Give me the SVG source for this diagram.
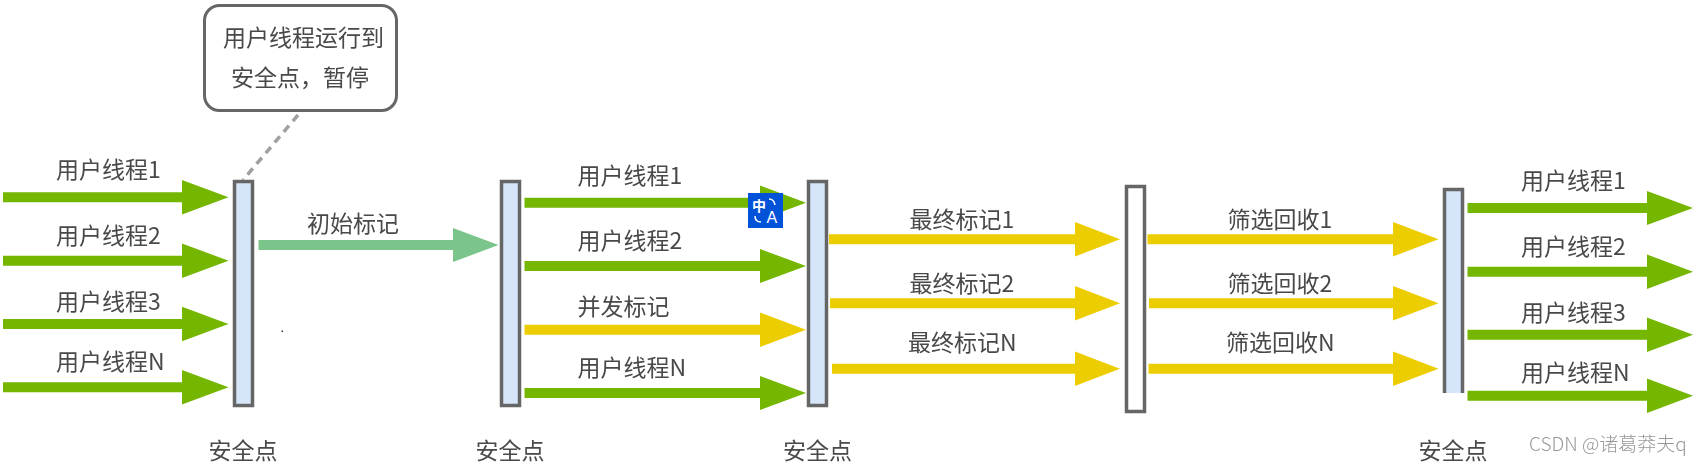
<svg xmlns="http://www.w3.org/2000/svg" width="1700" height="463" viewBox="0 0 1700 463">
<style>
text{font-family:"Noto Sans CJK SC","Liberation Sans",sans-serif;font-size:23px;fill:#484848;font-weight:400}
.c{text-anchor:middle}
.bar{stroke:#666;stroke-width:3.5;fill:#d5e6fa}
.g{fill:#74b600}.y{fill:#ecce00}.m{fill:#7bc58a}
.wm{font-size:19px;fill:#999;font-weight:300}
</style>
<defs>
<filter id="soft" x="-2%" y="-2%" width="104%" height="104%"><feGaussianBlur stdDeviation="0.45"/></filter>
</defs>
<rect width="1700" height="463" fill="#fff"/>
<g filter="url(#soft)">
<g id="connectors">
<line x1="298" y1="115" x2="243" y2="180" stroke="#a0a0a0" stroke-width="3.5" stroke-dasharray="8 6"/>
<polygon class="g" points="3,192.300 182,192.300 182,180 228.500,197.300 182,214.600 182,202.300 3,202.300"/>
<polygon class="g" points="3,255.700 182,255.700 182,243.500 228.500,260.700 182,278 182,265.700 3,265.700"/>
<polygon class="g" points="3,319 182,319 182,306.800 228.500,324 182,341.300 182,329 3,329"/>
<polygon class="g" points="3,382.300 182,382.300 182,370 228.500,387.300 182,404.600 182,392.300 3,392.300"/>
<polygon class="m" points="258.500,240 453,240 453,228 498.500,245 453,262 453,250 258.500,250"/>
<polygon class="g" points="524.500,197.700 760,197.700 760,185.500 806,202.700 760,220 760,207.700 524.500,207.700"/>
<polygon class="g" points="524.500,261 760,261 760,249 806,266 760,283 760,271 524.500,271"/>
<polygon class="y" points="524.500,324.700 760,324.700 760,312.500 806,329.700 760,347 760,334.700 524.500,334.700"/>
<polygon class="g" points="524.500,388 760,388 760,376 806,393 760,410 760,398 524.500,398"/>
<polygon class="y" points="829,234.300 1075,234.300 1075,222 1120,239.300 1075,256.500 1075,244.300 829,244.300"/>
<polygon class="y" points="830,298.300 1075,298.300 1075,286 1120,303.300 1075,320.500 1075,308.300 830,308.300"/>
<polygon class="y" points="832,363.700 1075,363.700 1075,351.500 1120,368.700 1075,386 1075,373.700 832,373.700"/>
<polygon class="y" points="1147.500,234.300 1393,234.300 1393,222 1438.500,239.300 1393,256.500 1393,244.300 1147.500,244.300"/>
<polygon class="y" points="1149,298.300 1393,298.300 1393,286 1438.500,303.300 1393,320.500 1393,308.300 1149,308.300"/>
<polygon class="y" points="1148.500,363.700 1393,363.700 1393,351.500 1438.500,368.700 1393,386 1393,373.700 1148.500,373.700"/>
<polygon class="g" points="1467.500,203 1647,203 1647,191 1693,208 1647,225 1647,213 1467.500,213"/>
<polygon class="g" points="1467.500,266.700 1647,266.700 1647,254.500 1693,271.700 1647,289 1647,276.700 1467.500,276.700"/>
<polygon class="g" points="1467.500,329.700 1647,329.700 1647,317.500 1693,334.700 1647,352 1647,339.700 1467.500,339.700"/>
<polygon class="g" points="1467.500,390.700 1647,390.700 1647,378.500 1693,395.700 1647,413 1647,400.700 1467.500,400.700"/>
</g>
<g id="callout">
<rect x="204.500" y="5.500" width="192" height="105" rx="15" fill="#fff" stroke="#666" stroke-width="3"/>
<text class="c" x="303.500" y="46">用户线程运行到</text>
<text class="c" x="300" y="85.500">安全点，暂停</text>
</g>
<g id="safepoint-1"><rect class="bar" x="234.500" y="181.500" width="18" height="224"/><text class="c" x="243" y="458.500">安全点</text></g>
<g id="safepoint-2"><rect class="bar" x="501.500" y="181.500" width="18" height="224"/><text class="c" x="510" y="458.500">安全点</text></g>
<g id="safepoint-3"><rect class="bar" x="808.500" y="181.500" width="18" height="224"/><text class="c" x="817.500" y="458.500">安全点</text></g>
<g id="barrier-4"><rect class="bar" style="fill:#fff" x="1126.500" y="186.500" width="18" height="225"/></g>
<g id="safepoint-5"><path class="bar" d="M1444.500,393V189.500H1462.500V393"/><text class="c" x="1453" y="458.500">安全点</text></g>
<g id="labels">
<text x="56" y="177.500">用户线程1</text>
<text x="56" y="243.500">用户线程2</text>
<text x="56" y="309.500">用户线程3</text>
<text x="56" y="369.500">用户线程N</text>
<text x="307" y="231.500">初始标记</text>
<text x="577.500" y="183.500">用户线程1</text>
<text x="577.500" y="248.500">用户线程2</text>
<text x="577.500" y="314.500">并发标记</text>
<text x="577.500" y="375.500">用户线程N</text>
<text x="909.500" y="227.500">最终标记1</text>
<text x="909.500" y="291.500">最终标记2</text>
<text x="908" y="350.500">最终标记N</text>
<text x="1227.500" y="227.500">筛选回收1</text>
<text x="1227.500" y="291.500">筛选回收2</text>
<text x="1226" y="350.500">筛选回收N</text>
<text x="1521" y="188.500">用户线程1</text>
<text x="1521" y="254.500">用户线程2</text>
<text x="1521" y="320.500">用户线程3</text>
<text x="1521" y="380.500">用户线程N</text>
</g>
<text id="watermark" class="wm" x="1529" y="451">CSDN @诸葛莽夫q</text>
</g>
<g id="translate-badge">
<rect x="748" y="193" width="35" height="35" fill="#0052d9"/>
<text x="752" y="210.500" style="font-size:14px;fill:#fff;font-weight:700">中</text>
<text x="766.500" y="223" style="font-size:16px;fill:#fff;font-weight:400;font-family:'Liberation Sans',sans-serif">A</text>
<path d="M769,199q5,0 6,6M755,216q0,6 6,6" fill="none" stroke="#fff" stroke-width="1.500"/>
</g>
<rect x="281.500" y="330.500" width="1.500" height="1.500" fill="#333"/>
</svg>
